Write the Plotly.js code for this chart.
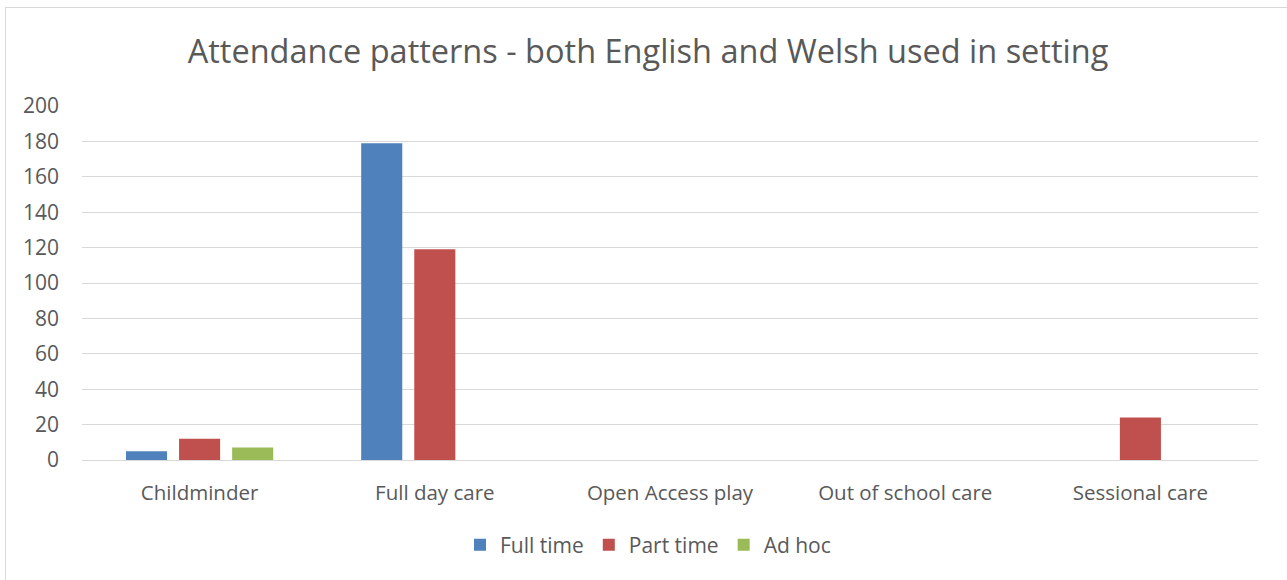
<!DOCTYPE html>
<html>
<head>
<meta charset="utf-8">
<script src="https://cdn.plot.ly/plotly-3.0.1.min.js"></script>
<style>
  html, body { margin: 0; padding: 0; background: #fff; overflow: hidden; }
  #frame { position: absolute; left: 5px; top: 7px; width: 1300px; height: 600px; border: 1px solid #d9d9d9; box-sizing: border-box; }
  #chart { position: absolute; left: 0; top: 0; width: 1287px; height: 580px; }
</style>
</head>
<body>
<div id="frame"></div>
<div id="chart"></div>
<script>
const categories = ["Childminder", "Full day care", "Open Access play", "Out of school care", "Sessional care"];
const fullTime = [5, 179, 0, 0, 0];
const partTime = [12, 119, 0, 0, 24];
const adHoc = [7, 0, 0, 0, 0];
const seriesNames = ["Full time", "Part time", "Ad hoc"];
const seriesColors = ["#4F81BD", "#C0504D", "#9BBB59"];
const yTicks = [0, 20, 40, 60, 80, 100, 120, 140, 160, 180, 200];

const textColor = "#595959";
const font = "Open Sans, Noto Sans, sans-serif";

const traces = [fullTime, partTime, adHoc].map((vals, i) => ({
  type: "bar",
  x: categories,
  y: vals,
  name: seriesNames[i],
  marker: { color: seriesColors[i] },
  hoverinfo: "x+y+name"
}));

const layout = {
  width: 1287,
  height: 580,
  paper_bgcolor: "rgba(0,0,0,0)",
  plot_bgcolor: "rgba(0,0,0,0)",
  margin: { l: 82, r: 29, t: 106, b: 120 },
  barmode: "group",
  bargap: 0.323,
  bargroupgap: 0.226,
  title: {
    text: "Attendance patterns - both English and Welsh used in setting",
    font: { family: font, size: 32.5, color: textColor },
    x: 648 / 1287, xanchor: "center", xref: "container",
    y: 1 - 52 / 580, yanchor: "middle", yref: "container"
  },
  xaxis: {
    type: "category",
    tickfont: { family: font, size: 20.5, color: textColor },
    showgrid: false, showline: false, zeroline: false,
    ticks: "",
    ticklabelstandoff: 18
  },
  yaxis: {
    range: [0, 200],
    tickvals: yTicks,
    ticktext: yTicks.map(String),
    tickfont: { family: font, size: 21, color: textColor },
    showgrid: true, gridcolor: "#D9D9D9", gridwidth: 1,
    zeroline: true, zerolinecolor: "#D9D9D9", zerolinewidth: 1,
    showline: false, ticks: "",
    ticklabelstandoff: 22
  },
  showlegend: true,
  legend: {
    orientation: "h",
    x: (648 - 82) / 1176, xanchor: "center",
    y: (460 - 545) / 354, yanchor: "middle",
    font: { family: font, size: 21, color: textColor },
    itemwidth: 30,
    traceorder: "normal"
  }
};

Plotly.newPlot("chart", traces, layout, { displayModeBar: false, staticPlot: true });
</script>
</body>
</html>
